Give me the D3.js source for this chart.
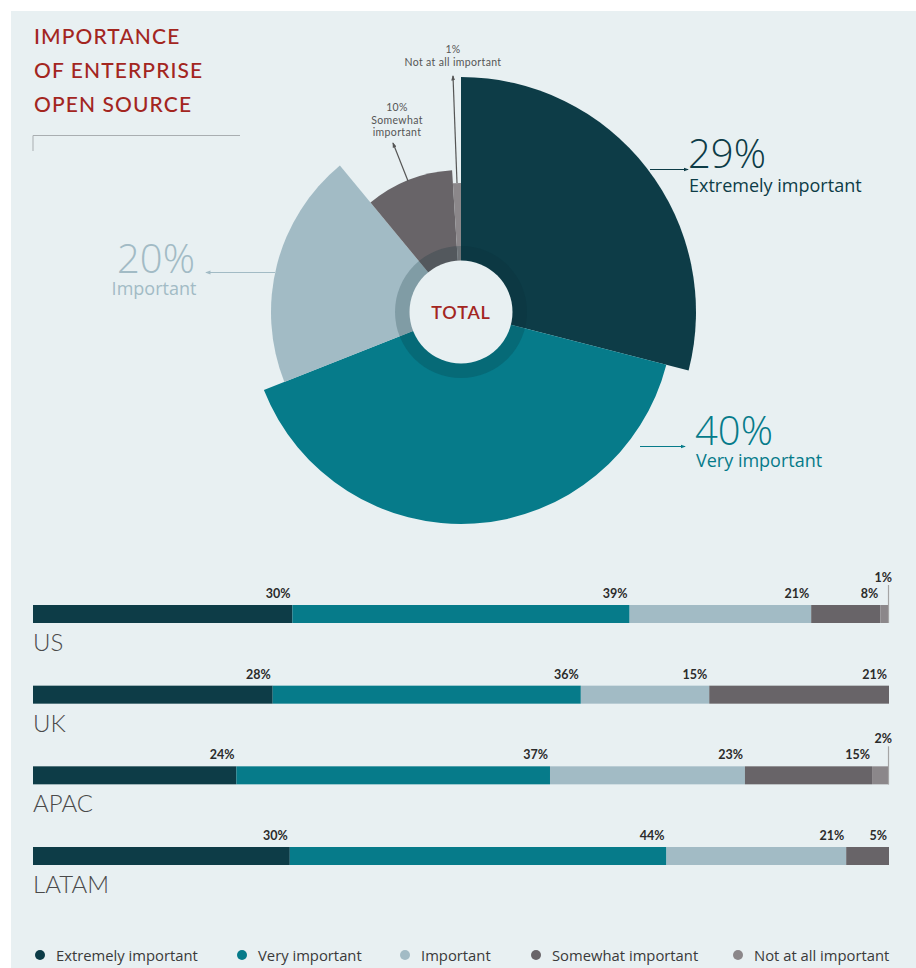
<!DOCTYPE html>
<html>
<head>
<meta charset="utf-8">
<script src="https://cdn.jsdelivr.net/npm/d3@7/dist/d3.min.js"></script>
<style>
  html, body { margin: 0; padding: 0; background: #ffffff; }
  svg { display: block; }
  text { font-family: Lato, "Open Sans", sans-serif; }
  .os { font-family: "Open Sans", Lato, sans-serif; }
</style>
</head>
<body>
<svg id="chart" width="916" height="968"></svg>
<script>
// Response categories, in order of importance
const categories = ["Extremely important", "Very important", "Important", "Somewhat important", "Not at all important"];
// Overall share of respondents (%)
const totalValues = [29, 40, 20, 10, 1];
// Regional breakdown (%)
const regions = ["US", "UK", "APAC", "LATAM"];
const usValues = [30, 39, 21, 8, 1];
const ukValues = [28, 36, 15, 21, 0];
const apacValues = [24, 37, 23, 15, 2];
const latamValues = [30, 44, 21, 5, 0];
const regionValues = [usValues, ukValues, apacValues, latamValues];

// Styling
const colors = ["#0d3c47", "#067b8a", "#a2bbc5", "#686468", "#8b878a"];
const labelColors = ["#0d3c47", "#067b8a", "#a2bbc5", "#555", "#555"];
const sliceRadius = [235, 212, 190, 142, 129];
const bg = "#e8f0f2";

const svg = d3.select("#chart");
svg.append("rect").attr("x", 11).attr("y", 11).attr("width", 905).attr("height", 957).attr("fill", bg);

const defs = svg.append("defs");
colors.concat(["#555"]).forEach((c, i) => {
  defs.append("marker")
    .attr("id", "arr" + i)
    .attr("viewBox", "0 0 6 6").attr("refX", 5).attr("refY", 3)
    .attr("markerWidth", 4.5).attr("markerHeight", 4.5).attr("orient", "auto")
    .append("path").attr("d", "M0,0.8 L6,3 L0,5.2 Z").attr("fill", c);
});

// Title
const title = svg.append("text").attr("fill", "#a3261f").attr("font-size", 21)
  .attr("letter-spacing", 1.1).attr("font-weight", 500);
["IMPORTANCE", "OF ENTERPRISE", "OPEN SOURCE"].forEach((t, i) => {
  title.append("tspan").attr("x", 34).attr("y", 44 + i * 34).text(t);
});
svg.append("path").attr("d", "M33,151 V135.5 H240").attr("fill", "none")
  .attr("stroke", "#a9aeb1").attr("stroke-width", 1);

// Pie of the totals, each slice with its own outer radius
const cx = 461, cy = 312;
const pie = d3.pie().sort(null).value(d => d)(totalValues);
const g = svg.append("g").attr("transform", `translate(${cx},${cy})`);
g.selectAll("path.slice").data(pie).join("path")
  .attr("class", "slice")
  .attr("fill", (d, i) => colors[i])
  .attr("d", (d, i) => d3.arc().innerRadius(0).outerRadius(sliceRadius[i])(d));
g.append("circle").attr("r", 66).attr("fill", "#0a2c35").attr("opacity", 0.22);
g.append("circle").attr("r", 51.5).attr("fill", bg);
g.append("text").attr("text-anchor", "middle").attr("y", 7).attr("font-size", 18)
  .attr("font-weight", 600).attr("letter-spacing", 0.8).attr("fill", "#a3261f").text("TOTAL");

// Slice callouts
function leader(x1, y1, x2, y2, ci) {
  svg.append("line").attr("x1", x1).attr("y1", y1).attr("x2", x2).attr("y2", y2)
    .attr("stroke", ci >= 3 ? "#555" : colors[ci])
    .attr("stroke-width", 1.2)
    .attr("marker-end", `url(#arr${ci >= 3 ? 5 : ci})`);
}
function bigLabel(x, y, i, anchor, nx, gap) {
  svg.append("text").attr("class", "os").attr("x", x).attr("y", y).attr("text-anchor", anchor)
    .attr("font-size", 40).attr("font-weight", 300).attr("fill", labelColors[i])
    .text(totalValues[i] + "%");
  svg.append("text").attr("class", "os").attr("x", nx).attr("y", y + gap).attr("text-anchor", anchor)
    .attr("font-size", 18).attr("fill", labelColors[i]).text(categories[i]);
}
leader(650, 169.5, 688, 169.5, 0);
bigLabel(688, 168, 0, "start", 689, 24);
leader(640, 446.5, 685, 446.5, 1);
bigLabel(695, 445, 1, "start", 696, 22);
leader(275, 272.5, 206, 272.5, 2);
bigLabel(156, 273, 2, "middle", 154, 22);

leader(408, 181, 393, 143, 3);
const sw = svg.append("text").attr("text-anchor", "middle").attr("font-size", 10.5)
  .attr("letter-spacing", 0.35).attr("fill", "#555");
sw.append("tspan").attr("x", 397).attr("y", 111).text(totalValues[3] + "%");
sw.append("tspan").attr("x", 397).attr("y", 123.5).text("Somewhat");
sw.append("tspan").attr("x", 397).attr("y", 136).text("important");

leader(457, 183, 453, 76, 4);
const na = svg.append("text").attr("text-anchor", "middle").attr("font-size", 10.5)
  .attr("letter-spacing", 0.35).attr("fill", "#555");
na.append("tspan").attr("x", 453).attr("y", 53).text(totalValues[4] + "%");
na.append("tspan").attr("x", 453).attr("y", 65.5).text(categories[4]);

// Regional stacked bars
const x = d3.scaleLinear().domain([0, 1]).range([33, 889]);
const y = d3.scalePoint().domain(regions).range([605, 847]);
const barH = 18;

regions.forEach((r, ri) => {
  const vals = regionValues[ri];
  const total = d3.sum(vals);
  let cum = 0;
  const segs = vals.map((v, i) => {
    const s = { v, i, x0: cum / total, x1: (cum + v) / total };
    cum += v;
    return s;
  }).filter(s => s.v > 0);
  const row = svg.append("g");
  const y0 = y(r);
  row.selectAll("rect").data(segs).join("rect")
    .attr("x", d => x(d.x0)).attr("y", y0)
    .attr("width", d => x(d.x1) - x(d.x0)).attr("height", barH)
    .attr("fill", d => colors[d.i]);
  segs.forEach(d => {
    if (d.v < 3) {
      row.append("line").attr("x1", x(d.x1) - 0.5).attr("x2", x(d.x1) - 0.5)
        .attr("y1", y0 - 20).attr("y2", y0 + barH)
        .attr("stroke", "#a5a5a5").attr("stroke-width", 1.2);
      row.append("text").attr("x", x(d.x1) + 3).attr("y", y0 - 23).attr("text-anchor", "end")
        .attr("font-size", 12.5).attr("font-weight", 700).attr("fill", "#2b2b2b").text(d.v + "%");
    } else {
      row.append("text").attr("x", x(d.x1) - 2).attr("y", y0 - 7).attr("text-anchor", "end")
        .attr("font-size", 12.5).attr("font-weight", 700).attr("fill", "#2b2b2b").text(d.v + "%");
    }
  });
  row.append("text").attr("x", 33).attr("y", y0 + barH + 28).attr("font-size", 24)
    .attr("font-weight", 300).attr("fill", "#4a4a4a").text(r);
});

// Legend
const legendX = [40, 242, 405, 536, 738];
const lg = svg.append("g");
categories.forEach((c, i) => {
  lg.append("circle").attr("cx", legendX[i]).attr("cy", 955).attr("r", 5).attr("fill", colors[i]);
  lg.append("text").attr("class", "os").attr("x", legendX[i] + 16).attr("y", 960.5).attr("font-size", 14.8)
    .attr("fill", "#3a3a3a").text(c);
});
</script>
</body>
</html>
